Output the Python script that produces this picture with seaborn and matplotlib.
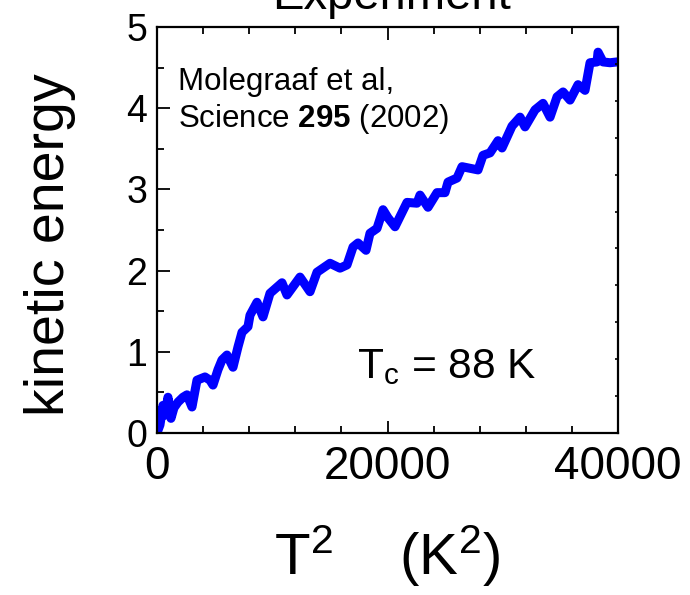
import numpy as np
import pandas as pd
import matplotlib
matplotlib.use('Agg')
import matplotlib.pyplot as plt
from matplotlib.ticker import MultipleLocator
import seaborn as sns

# Data (T^2 in K^2, kinetic energy in arbitrary units)
t_squared = [0, 260, 520, 694, 954, 1215, 1475, 1822, 2256, 2603, 3037, 3471,
             4165, 4599, 4859, 5293, 5640, 6074, 6595, 7029, 7376, 7896, 8070,
             8677, 9198, 9805, 10846, 11280, 12408, 13276, 13883, 15011, 15879,
             16486, 17007, 17441, 18135, 18482, 19089, 19610, 20044, 20651,
             21692, 22560, 22820, 23514, 24295, 24989, 25249, 26030, 26464,
             27158, 27852, 28286, 28894, 29588, 29935, 30803, 31497, 31931,
             32799, 33493, 34101, 34708, 35229, 35836, 36530, 37137, 37571,
             38178, 38265, 38699, 39307, 39914]
kinetic = [0.00, 0.10, 0.34, 0.22, 0.44, 0.18, 0.31, 0.38, 0.44, 0.47, 0.32,
           0.65, 0.69, 0.65, 0.59, 0.78, 0.90, 0.96, 0.81, 1.06, 1.24, 1.31,
           1.45, 1.61, 1.43, 1.72, 1.85, 1.70, 1.92, 1.74, 1.98, 2.09, 2.03,
           2.07, 2.29, 2.34, 2.25, 2.46, 2.52, 2.75, 2.65, 2.54, 2.84, 2.83,
           2.93, 2.78, 2.96, 2.96, 3.09, 3.14, 3.28, 3.26, 3.24, 3.42, 3.45,
           3.60, 3.51, 3.78, 3.89, 3.77, 3.98, 4.06, 3.89, 4.14, 4.20, 4.10,
           4.29, 4.22, 4.56, 4.57, 4.69, 4.57, 4.56, 4.57]

x_ticks = [0, 20000, 40000]
y_ticks = [0, 1, 2, 3, 4, 5]

df = pd.DataFrame({'T2': t_squared, 'ke': kinetic})

sns.set_style('ticks')
plt.rcParams['font.family'] = ['Liberation Sans', 'DejaVu Sans']
plt.rcParams['mathtext.fontset'] = 'custom'
plt.rcParams['mathtext.rm'] = 'Liberation Sans'
plt.rcParams['mathtext.bf'] = 'Liberation Sans:bold'
plt.rcParams['mathtext.it'] = 'Liberation Sans:italic'
for key in ['text.color', 'axes.labelcolor', 'axes.edgecolor', 'xtick.color', 'ytick.color']:
    plt.rcParams[key] = 'black'

fig = plt.figure(figsize=(6.9, 5.95), dpi=100)
ax = fig.add_axes([0.2275, 0.2723, 0.6682, 0.6823])

sns.lineplot(data=df, x='T2', y='ke', color='#0000ff', linewidth=6.5,
             ax=ax, sort=False, solid_capstyle='round', solid_joinstyle='round')

ax.set_xlim(0, 40000)
ax.set_ylim(0, 5)
ax.set_xticks(x_ticks)
ax.set_yticks(y_ticks)
ax.xaxis.set_minor_locator(MultipleLocator(4000))
ax.yaxis.set_minor_locator(MultipleLocator(0.5))
ax.tick_params(axis='x', which='both', direction='in', top=True, width=1.3)
ax.tick_params(axis='x', which='major', length=9, pad=9, labelsize=33)
ax.tick_params(axis='x', which='minor', length=5)
ax.tick_params(axis='y', which='both', direction='in', right=False, width=1.3)
ax.tick_params(axis='y', which='major', length=9, pad=7, labelsize=27)
ax.tick_params(axis='y', which='minor', length=5)
for sp in ax.spines.values():
    sp.set_linewidth(1.6)

# small ticks on the right edge
ax2 = ax.twinx()
ax2.set_ylim(0, 5)
ax2.set_yticks(np.linspace(0, 5, 12))
ax2.tick_params(axis='y', direction='in', length=2.5, width=1.2, labelright=False)
for sp in ax2.spines.values():
    sp.set_visible(False)

ax.set_xlabel('T$^\\mathregular{2}$    (K$^\\mathregular{2}$)', fontsize=42, labelpad=24)
ax.set_ylabel('kinetic energy', fontsize=40)
ax.yaxis.set_label_coords(-0.175, 0.463)

ax.text(0.046, 0.845, 'Molegraaf et al,', transform=ax.transAxes,
        fontsize=22.5, va='baseline', ha='left')
ax.text(0.046, 0.754, 'Science $\\mathbf{295}$ (2002)', transform=ax.transAxes,
        fontsize=22.5, va='baseline', ha='left')
ax.text(0.433, 0.135, 'T$_\\mathregular{c}$ = 88 K', transform=ax.transAxes,
        fontsize=30.5, va='baseline', ha='left')

fig.text(0.568, 1 - 9 / 595, 'Experiment', fontsize=34, ha='center', va='baseline')

fig.savefig('out.png', dpi=100)
